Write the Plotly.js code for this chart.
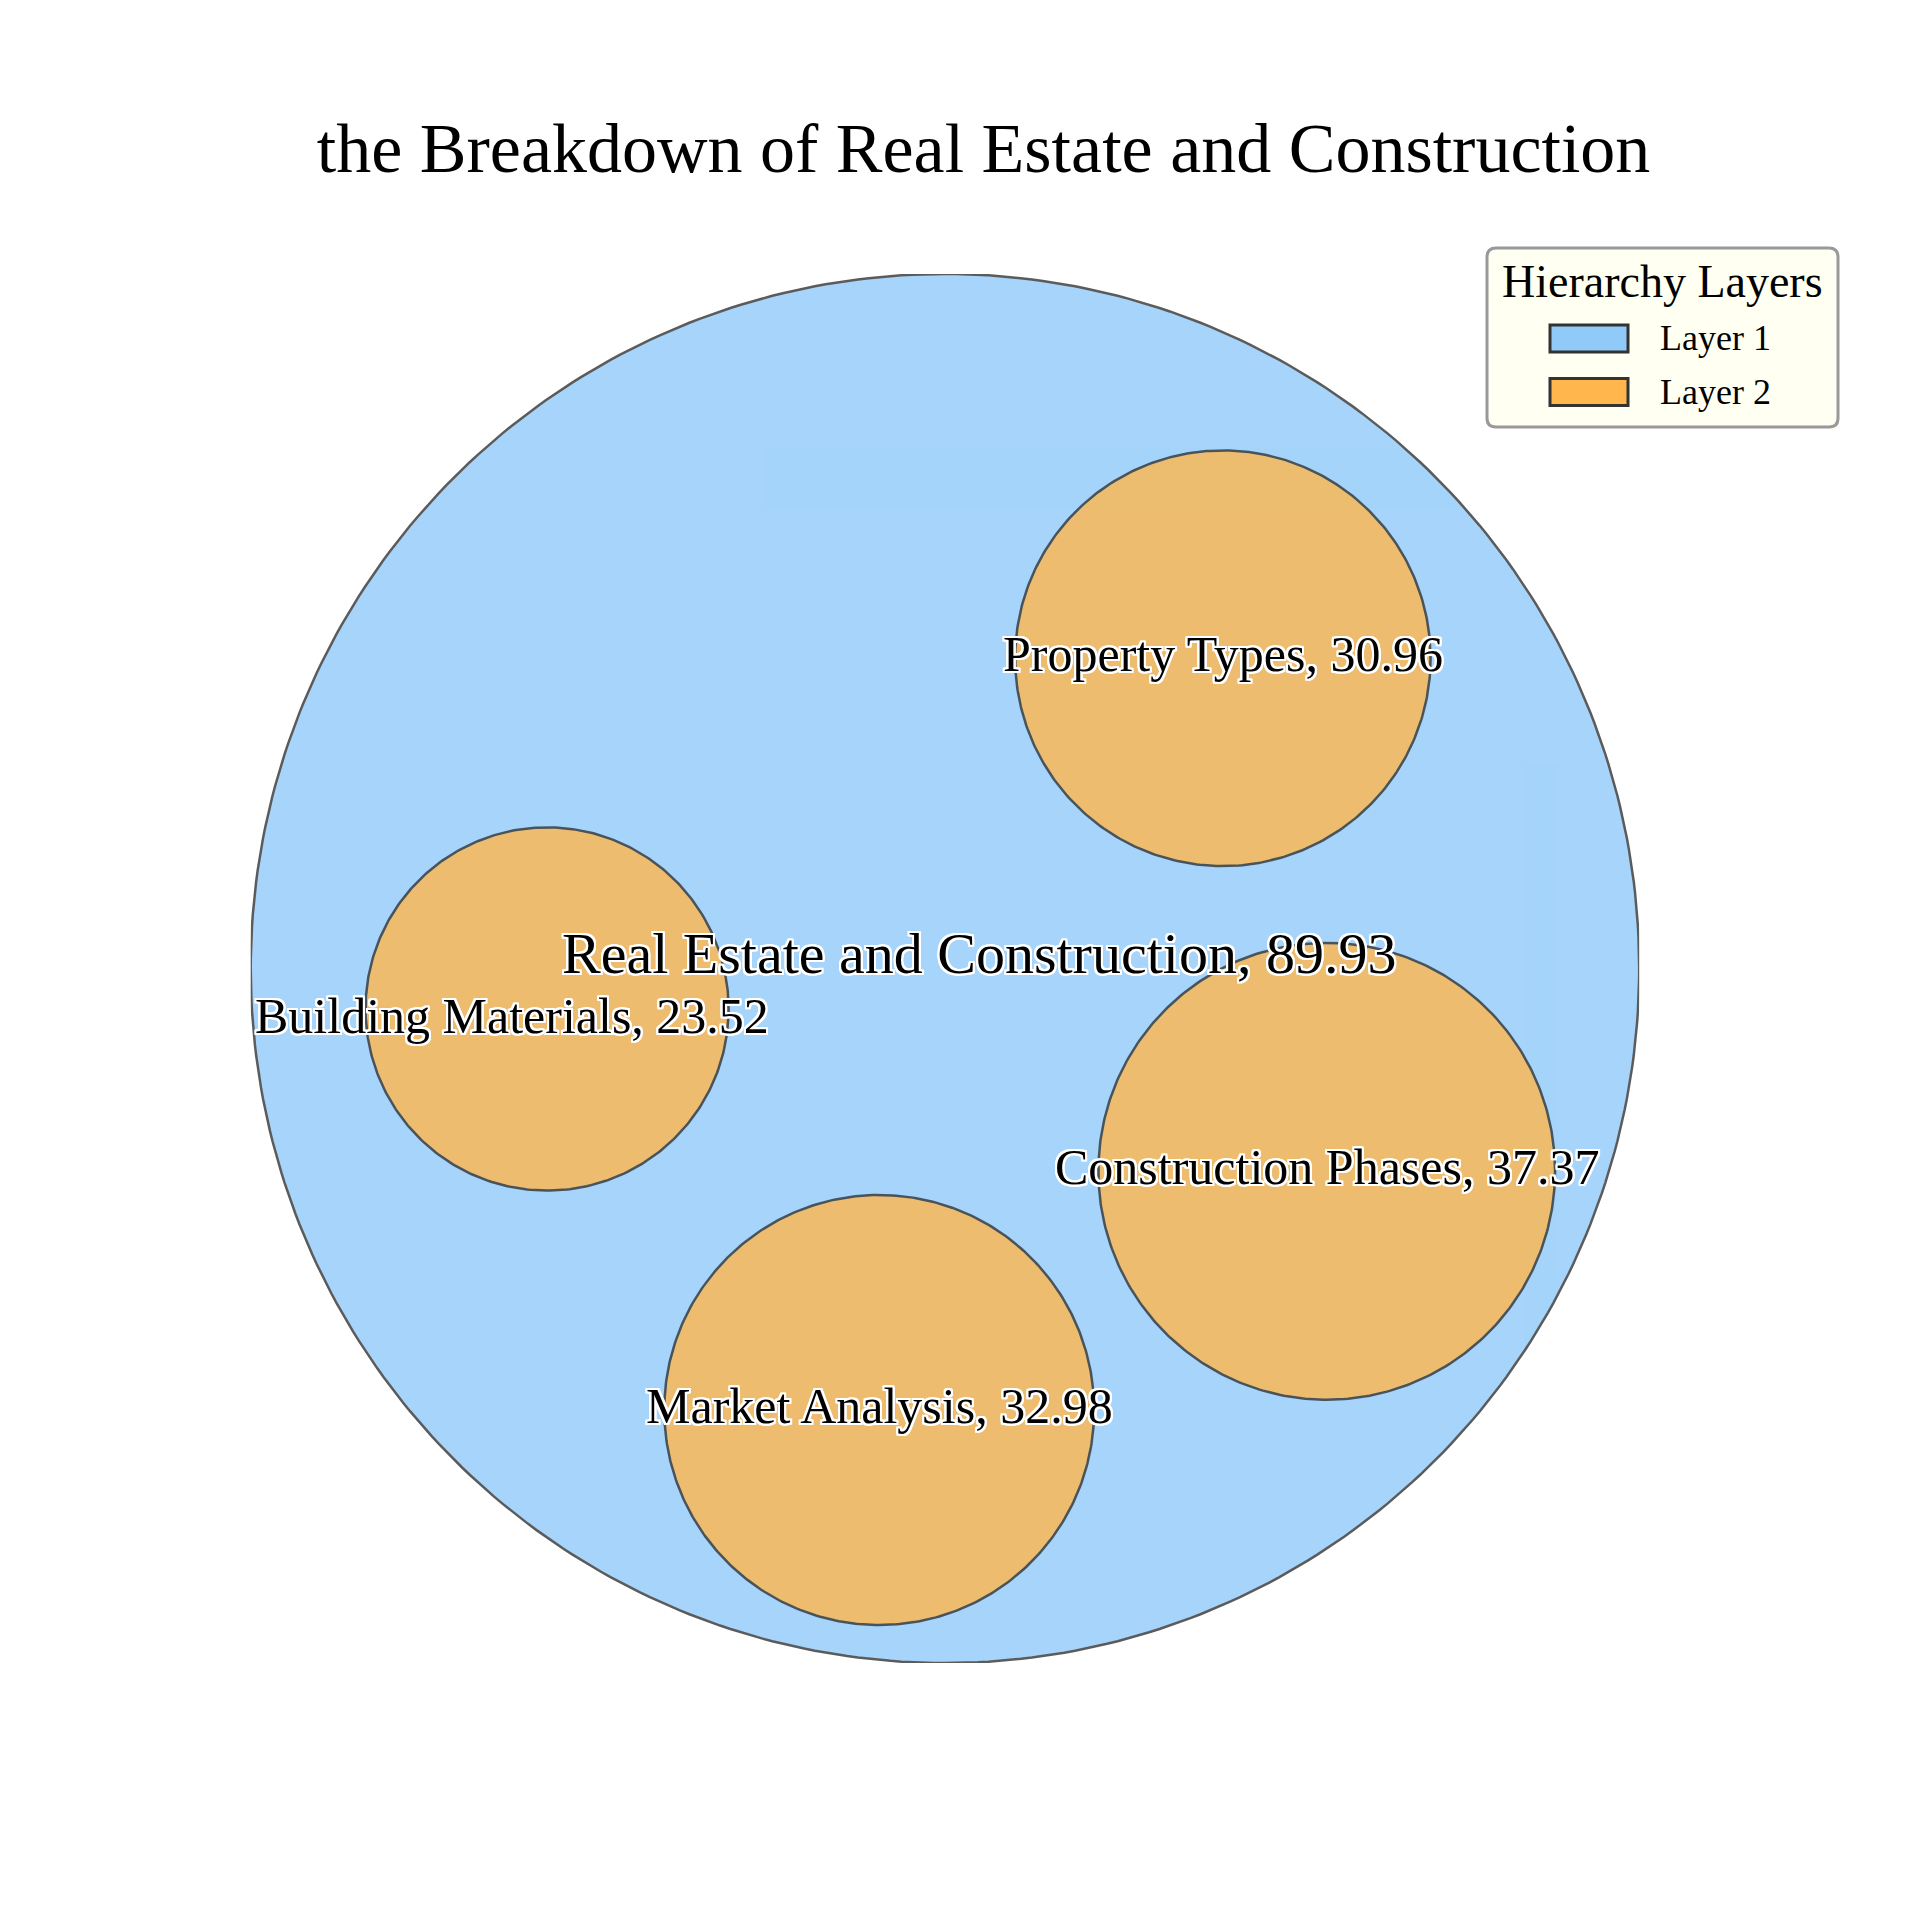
<!DOCTYPE html>
<html>
<head>
<meta charset="utf-8">
<script src="https://cdn.plot.ly/plotly-3.0.1.min.js"></script>
<style>html,body{margin:0;padding:0;background:#fff;}</style>
</head>
<body>
<div id="chart" style="width:1920px;height:1920px;"></div>
<script>
// ---- data ----
const names  = ['Real Estate and Construction', 'Property Types', 'Building Materials', 'Construction Phases', 'Market Analysis'];
const values = [89.93, 30.96, 23.52, 37.37, 32.98];
const layers = [1, 2, 2, 2, 2];
// circle-packing result (centre / radius, outer circle = unit circle)
const packX = [0, 0.4003, -0.5731, 0.5499, -0.0947];
const packY = [0, 0.4467, -0.0583, -0.2920, -0.6357];
const packR = [1, 0.2992, 0.2615, 0.3289, 0.3096];
const layerNames = ['Layer 1', 'Layer 2'];

// ---- styles ----
const FONT = '"Times New Roman", "Liberation Serif", serif';
const layerColors = {1: '#90caf9', 2: '#ffb74d'};
const halo = 'white 2px 0px 0px, white -2px 0px 0px, white 0px 2px 0px, white 0px -2px 0px, white 2px 2px 0px, white -2px -2px 0px, white 2px -2px 0px, white -2px 2px 0px, white 1px 2px 0px, white -1px 2px 0px, white 1px -2px 0px, white -1px -2px 0px, white 2px 1px 0px, white -2px 1px 0px, white 2px -1px 0px, white -2px -1px 0px';
const labelSize = {1: 58, 2: 50};
const labelShift = {0: [34, 11.5], 2: [-35, -11.5]};
const baseYShift = 4;

function circlePts(cx, cy, r, n) {
  const xs = [], ys = [];
  for (let i = 0; i <= n; i++) {
    const t = 2 * Math.PI * i / n;
    xs.push(cx + r * Math.cos(t));
    ys.push(cy + r * Math.sin(t));
  }
  return [xs, ys];
}

const traces = [];
[1, 2].forEach(L => {
  let xs = [], ys = [];
  names.forEach((nm, i) => {
    if (layers[i] !== L) return;
    const [cx, cy] = circlePts(packX[i], packY[i], packR[i], 400);
    if (xs.length) { xs.push(null); ys.push(null); }
    xs = xs.concat(cx); ys = ys.concat(cy);
  });
  traces.push({
    type: 'scatter', mode: 'lines', x: xs, y: ys,
    fill: 'toself', fillcolor: layerColors[L],
    line: {color: '#333333', width: 2.5},
    opacity: 0.8, hoverinfo: 'skip', showlegend: false, name: layerNames[L - 1]
  });
});

const annotations = names.map((nm, i) => {
  const sh = labelShift[i] || [0, 0];
  return {
    x: packX[i], y: packY[i], xref: 'x', yref: 'y',
    text: nm + ', ' + values[i].toFixed(2), showarrow: false,
    xanchor: 'center', yanchor: 'middle', xshift: sh[0], yshift: sh[1] + baseYShift,
    font: {family: FONT, size: labelSize[layers[i]], color: 'black', shadow: halo}
  };
});

// legend (custom, in paper = container coordinates)
const px = v => v / 1920, py = v => 1 - v / 1920;
const shapes = [];
function roundRect(x0, y0, x1, y1, r) {
  return `M${px(x0 + r)},${py(y0)} L${px(x1 - r)},${py(y0)} Q${px(x1)},${py(y0)} ${px(x1)},${py(y0 + r)} ` +
         `L${px(x1)},${py(y1 - r)} Q${px(x1)},${py(y1)} ${px(x1 - r)},${py(y1)} L${px(x0 + r)},${py(y1)} ` +
         `Q${px(x0)},${py(y1)} ${px(x0)},${py(y1 - r)} L${px(x0)},${py(y0 + r)} Q${px(x0)},${py(y0)} ${px(x0 + r)},${py(y0)} Z`;
}
shapes.push({type: 'path', xref: 'paper', yref: 'paper', path: roundRect(1487, 248, 1838, 427, 9),
  fillcolor: '#fffff2', line: {color: '#999999', width: 3}});
annotations.push({xref: 'paper', yref: 'paper', x: px(1662.5), y: py(282), xanchor: 'center', yanchor: 'middle',
  text: 'Hierarchy Layers', showarrow: false, font: {family: FONT, size: 46, color: 'black'}});
layerNames.forEach((ln, k) => {
  const yc = 338.5 + k * 53.5;
  shapes.push({type: 'rect', xref: 'paper', yref: 'paper', x0: px(1550), x1: px(1628), y0: py(yc - 13.5), y1: py(yc + 13.5),
    fillcolor: layerColors[k + 1], line: {color: '#333333', width: 3}});
  annotations.push({xref: 'paper', yref: 'paper', x: px(1658), y: py(yc), xanchor: 'left', yanchor: 'middle',
    text: ln, showarrow: false, font: {family: FONT, size: 36, color: 'black'}});
});

const layout = {
  width: 1920, height: 1920,
  margin: {l: 0, r: 0, t: 0, b: 0, pad: 0},
  paper_bgcolor: 'white', plot_bgcolor: 'rgba(0,0,0,0)',
  title: {text: 'the Breakdown of Real Estate and Construction', xref: 'container', yref: 'container',
    x: 983.6 / 1920, xanchor: 'center', y: 1 - 147 / 1920, yanchor: 'middle',
    font: {family: FONT, size: 70, color: 'black'}},
  xaxis: {domain: [250.7 / 1920, 1639.2 / 1920], range: [-1, 1], visible: false, fixedrange: true},
  yaxis: {domain: [1 - 1663 / 1920, 1 - 274 / 1920], range: [-1, 1], visible: false, fixedrange: true},
  showlegend: false,
  shapes: shapes,
  annotations: annotations
};

Plotly.newPlot('chart', traces, layout, {displayModeBar: false, staticPlot: true});
</script>
</body>
</html>
